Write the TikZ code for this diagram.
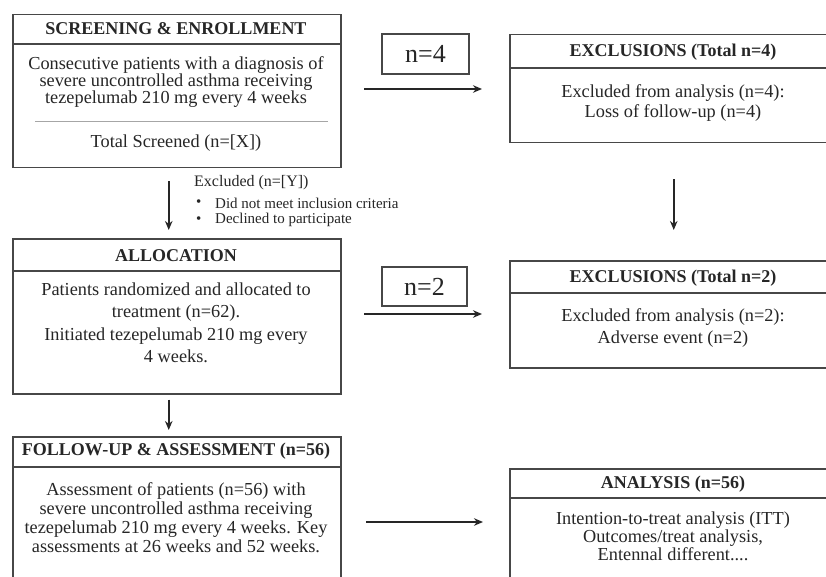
\documentclass[tikz,border=0pt]{standalone}
\usepackage{fontspec}
\setmainfont{Liberation Serif}
\usetikzlibrary{arrows.meta}
\tikzset{
  box/.style={draw=black!72, line width=1.5pt, rectangle, inner sep=0pt, anchor=north west},
  sep/.style={draw=black!72, line width=1.3pt},
  thin sep/.style={draw=black!35, line width=0.8pt},
  ttl/.style={font=\bfseries\fontsize{18}{20}\selectfont, inner sep=0pt, text=black!85},
  body/.style={font=\fontsize{18.3}{17}\selectfont, align=center, inner sep=0pt, text=black!85},
  nbox/.style={draw=black!72, line width=1.5pt, rectangle, inner sep=0pt, font=\fontsize{26}{28}\selectfont, text=black!85},
  small/.style={font=\fontsize{16}{17}\selectfont, inner sep=0pt, anchor=west, text=black!85},
  tiny/.style={font=\fontsize{15}{17}\selectfont, inner sep=0pt, anchor=west, text=black!85},
  arr/.style={-{Stealth[length=9pt,width=7.5pt]}, line width=2pt, draw=black!85},
}
\begin{document}
\begin{tikzpicture}[x=1pt,y=-1pt]
\useasboundingbox (0,0) rectangle (826,577);
\clip (0,0) rectangle (826,577);
\fill[white] (0,0) rectangle (826,577);

% ---------- left column ----------
\node[box, minimum width=328, minimum height=153] (screen) at (12,14) {};
\draw[sep] (12,44) -- (340,44);
\node[ttl] (screenT) at (176,29) {SCREENING \& ENROLLMENT};
\node[body, font=\fontsize{18.3}{16.8}\selectfont] (screenB) at (176,82) {Consecutive patients with a diagnosis of\\severe uncontrolled asthma receiving\\tezepelumab 210 mg every 4 weeks};
\draw[thin sep] (35,121) -- (328,121);
\node[body] (screenN) at (176,143) {Total Screened (n=[X])};

\node[small] (excl) at (194,183) {Excluded (n=[Y])};
\node[tiny] (b1) at (196,203) {•};
\node[tiny] (b1t) at (215,203) {Did not meet inclusion criteria};
\node[tiny] (b2) at (196,220) {•};
\node[tiny] (b2t) at (215,220) {Declined to participate};

\node[box, minimum width=328, minimum height=155] (alloc) at (12,238) {};
\draw[sep] (12,271) -- (340,271);
\node[ttl] (allocT) at (176,256) {ALLOCATION};
\node[body, font=\fontsize{18.3}{22.5}\selectfont] (allocB) at (176,323) {Patients randomized and allocated to\\treatment (n=62).\\Initiated tezepelumab 210 mg every\\4 weeks.};

\node[box, minimum width=328, minimum height=200] (follow) at (12,436) {};
\draw[sep] (12,467) -- (340,467);
\node[ttl] (followT) at (176,451) {FOLLOW-UP \& ASSESSMENT (n=56)};
\node[body, font=\fontsize{18.3}{19}\selectfont] (followB) at (176,518) {Assessment of patients (n=56) with\\severe uncontrolled asthma receiving\\tezepelumab 210 mg every 4 weeks. Key\\assessments at 26 weeks and 52 weeks.};

% ---------- middle count boxes ----------
\node[nbox, minimum width=87, minimum height=40] (n4) at (425.5,54) {n=4};
\node[nbox, minimum width=85, minimum height=39] (n2) at (424.5,286.5) {n=2};

% ---------- right column ----------
\node[box, minimum width=330, minimum height=108] (ex1) at (509,34) {};
\draw[sep] (509,68) -- (839,68);
\node[ttl] (ex1T) at (673,52) {EXCLUSIONS (Total n=4)};
\node[body, font=\fontsize{18.3}{20}\selectfont] (ex1B) at (673,103) {Excluded from analysis (n=4):\\Loss of follow-up (n=4)};

\node[box, minimum width=330, minimum height=107] (ex2) at (509,260) {};
\draw[sep] (509,293) -- (839,293);
\node[ttl] (ex2T) at (673,278) {EXCLUSIONS (Total n=2)};
\node[body, font=\fontsize{18.3}{22}\selectfont] (ex2B) at (673,328) {Excluded from analysis (n=2):\\Adverse event (n=2)};

\node[box, minimum width=330, minimum height=200] (ana) at (509,468) {};
\draw[sep] (509,498) -- (839,498);
\node[ttl] (anaT) at (673,484) {ANALYSIS (n=56)};
\node[body, font=\fontsize{18.3}{18}\selectfont] (anaB) at (673,536) {Intention-to-treat analysis (ITT)\\Outcomes/treat analysis,\\Entennal different....};

% ---------- connectors ----------
\coordinate (h1s) at (364,89);  \coordinate (h1e) at (482,89);
\coordinate (h2s) at (364,314); \coordinate (h2e) at (482,314);
\coordinate (h3s) at (366,522); \coordinate (h3e) at (483,522);
\draw[arr] (h1s) -- (h1e);
\draw[arr] (h2s) -- (h2e);
\draw[arr] (h3s) -- (h3e);
\draw[arr] ([xshift=-8pt,yshift=-13pt]screen.south) -- ([xshift=-8pt,yshift=8pt]alloc.north);
\draw[arr] ([xshift=-8pt,yshift=-5pt]alloc.south) -- ([xshift=-8pt,yshift=6pt]follow.north);
\draw[arr] ([xshift=-1pt,yshift=-36pt]ex1.south) -- ([xshift=-1pt,yshift=30pt]ex2.north);
\end{tikzpicture}
\end{document}
